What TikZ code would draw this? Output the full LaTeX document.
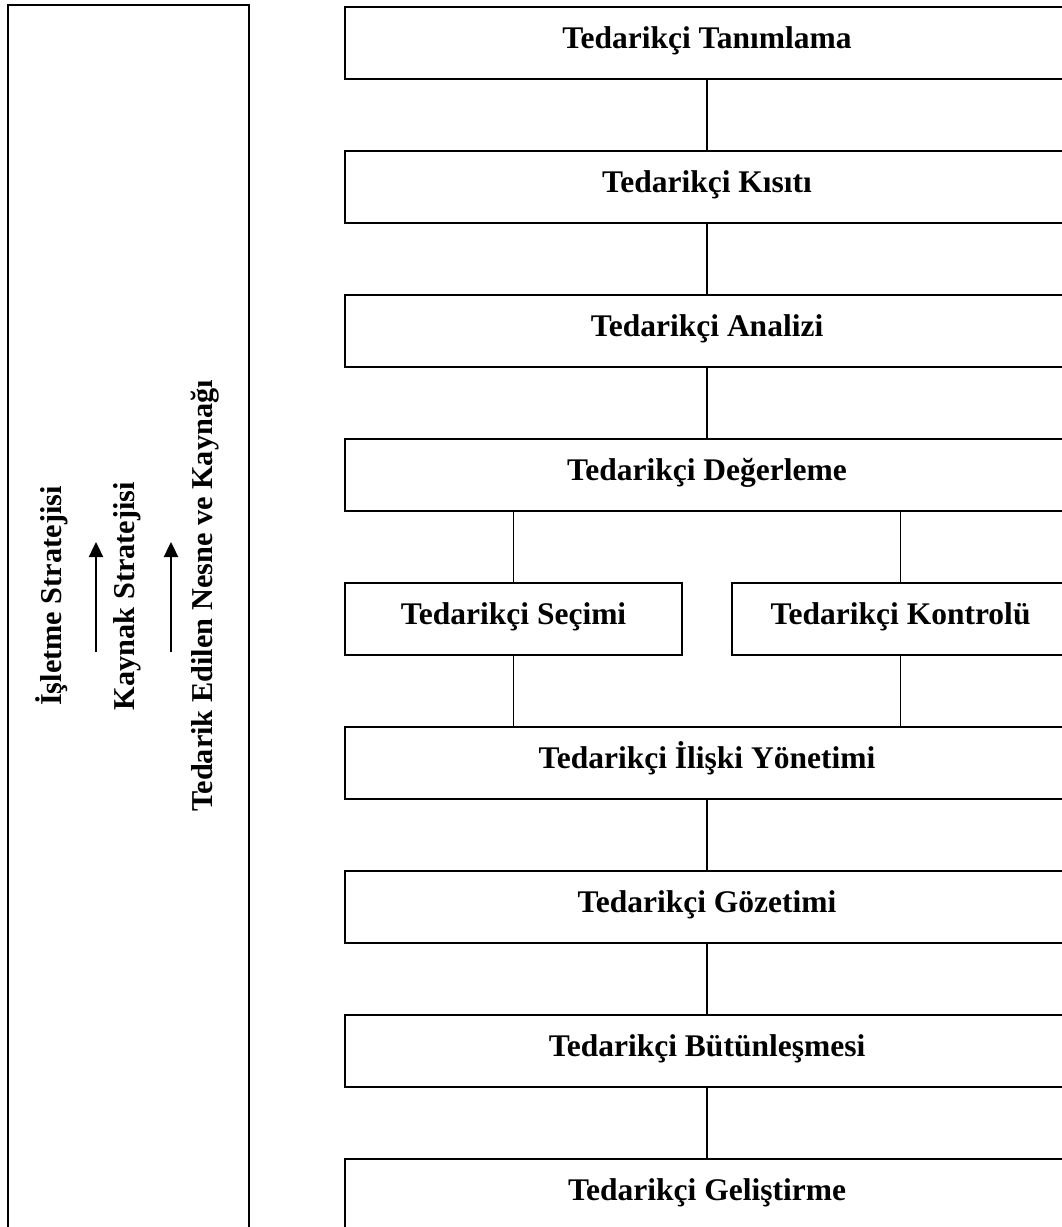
\documentclass[tikz,border=0pt]{standalone}
\usepackage{fontspec}
\setmainfont{Liberation Serif}
\usetikzlibrary{arrows.meta,positioning}

\begin{document}
\begin{tikzpicture}[
  x=1pt,y=-1pt,
  node distance=72pt,
  bigbox/.style={draw,line width=1.5pt,outer sep=0pt,minimum width=724pt,minimum height=72pt,text height=22pt,text depth=12pt,font=\fontsize{31.5}{37}\selectfont\bfseries},
  halfbox/.style={bigbox,minimum width=337pt},
  frame/.style={draw,line width=1.5pt,outer sep=0pt,minimum width=241pt,minimum height=1240pt,inner sep=0pt},
  sidetext/.style={rotate=90,inner sep=0pt,font=\fontsize{30.3}{36}\selectfont\bfseries},
  link/.style={line width=1.3pt},
  uparrow/.style={-{Triangle[length=15pt,width=14pt]},line width=2.4pt}
]
\useasboundingbox (0,0) rectangle (1062,1227);
\clip (0,0) rectangle (1062,1227);
\node[frame,anchor=north west] (cerceve) at (8,5) {};
\node[sidetext] (isletme) at (52,596) {İşletme Stratejisi};
\node[sidetext] (kaynak) at (127,596) {Kaynak Stratejisi};
\node[sidetext] (nesne) at (205,596) {Tedarik Edilen Nesne ve Kaynağı};
\coordinate (ok1a) at (96,652);
\coordinate (ok1b) at (96,542);
\coordinate (ok2a) at (171,652);
\coordinate (ok2b) at (171,542);
\draw[uparrow] (ok1a) -- (ok1b);
\draw[uparrow] (ok2a) -- (ok2b);
\node[bigbox] (tanim) at (707,43) {Tedarikçi Tanımlama};
\node[bigbox,below=of tanim] (kisit) {Tedarikçi Kısıtı};
\node[bigbox,below=of kisit] (analiz) {Tedarikçi Analizi};
\node[bigbox,below=of analiz] (deger) {Tedarikçi Değerleme};
\node[halfbox,below=of deger.south west,anchor=north west] (secim) {Tedarikçi Seçimi};
\node[halfbox,below=of deger.south east,anchor=north east] (kontrol) {Tedarikçi Kontrolü};
\node[bigbox,below=of secim.south west,anchor=north west] (iliski) {Tedarikçi İlişki Yönetimi};
\node[bigbox,below=of iliski] (gozetim) {Tedarikçi Gözetimi};
\node[bigbox,below=of gozetim] (butun) {Tedarikçi Bütünleşmesi};
\node[bigbox,below=of butun] (gelis) {Tedarikçi Geliştirme};
\draw[link] (tanim) -- (kisit);
\draw[link] (kisit) -- (analiz);
\draw[link] (analiz) -- (deger);
\draw[link] (secim.north) -- (secim.north |- deger.south);
\draw[link] (kontrol.north) -- (kontrol.north |- deger.south);
\draw[link] (secim.south) -- (secim.south |- iliski.north);
\draw[link] (kontrol.south) -- (kontrol.south |- iliski.north);
\draw[link] (iliski) -- (gozetim);
\draw[link] (gozetim) -- (butun);
\draw[link] (butun) -- (gelis);
\end{tikzpicture}
\end{document}
